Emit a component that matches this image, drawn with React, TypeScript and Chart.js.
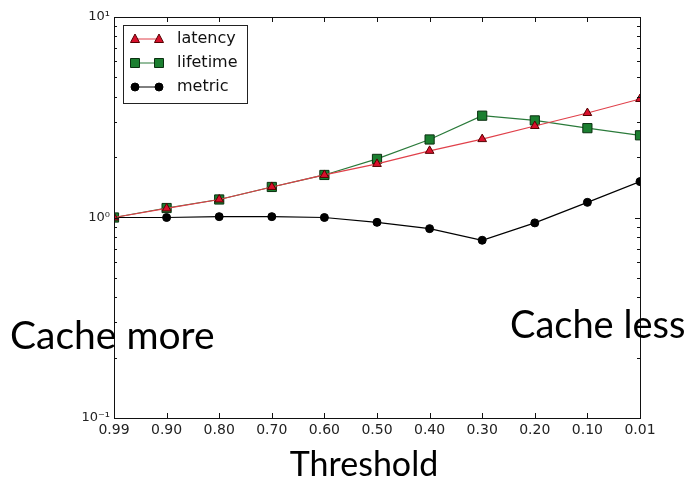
import React, { useEffect, useRef } from "react";
import { Chart, registerables } from "chart.js";

Chart.register(...registerables);

const categories = ["0.99", "0.90", "0.80", "0.70", "0.60", "0.50", "0.40", "0.30", "0.20", "0.10", "0.01"];
const latency = [1.0, 1.11, 1.23, 1.42, 1.63, 1.85, 2.15, 2.46, 2.86, 3.32, 3.9];
const lifetime = [1.0, 1.115, 1.23, 1.42, 1.63, 1.96, 2.45, 3.22, 3.05, 2.79, 2.57];
const metric = [1.0, 1.0, 1.01, 1.01, 1.0, 0.946, 0.88, 0.77, 0.94, 1.19, 1.51];
const yMajorTicks = [0.1, 1, 10];
const yTickLabels = ["10⁻¹", "10⁰", "10¹"];
const yMinorTicks = [0.2, 0.3, 0.4, 0.5, 0.6, 0.7, 0.8, 0.9, 2, 3, 4, 5, 6, 7, 8, 9];

const RED_LINE = "#e0404a";
const RED_FILL = "#d8102c";
const GREEN_LINE = "#2a7a3a";
const GREEN_FILL = "#1b7f30";

const framePlugin = {
  id: "frameTicks",
  afterDatasetsDraw(chart: any) {
    const { ctx, chartArea } = chart;
    const { left, right, top, bottom } = chartArea;
    const xs = chart.scales.x;
    const ys = chart.scales.y;
    ctx.save();
    ctx.strokeStyle = "#111";
    ctx.lineWidth = 1;
    ctx.beginPath();
    categories.forEach((_, i) => {
      const px = Math.round(xs.getPixelForValue(i)) + 0.5;
      ctx.moveTo(px, bottom);
      ctx.lineTo(px, bottom - 5);
      ctx.moveTo(px, top);
      ctx.lineTo(px, top + 5);
    });
    yMajorTicks.forEach((v) => {
      const py = Math.round(ys.getPixelForValue(v)) + 0.5;
      ctx.moveTo(left, py);
      ctx.lineTo(left + 5, py);
      ctx.moveTo(right, py);
      ctx.lineTo(right - 5, py);
    });
    yMinorTicks.forEach((v) => {
      const py = Math.round(ys.getPixelForValue(v)) + 0.5;
      ctx.moveTo(left, py);
      ctx.lineTo(left + 3, py);
      ctx.moveTo(right, py);
      ctx.lineTo(right - 3, py);
    });
    ctx.stroke();
    ctx.strokeRect(Math.round(left) + 0.5, Math.round(top) + 0.5, Math.round(right - left), Math.round(bottom - top));

    // legend
    const lx = left + 9;
    const ly = top + 8;
    const lw = 124;
    const lh = 78;
    ctx.fillStyle = "#fff";
    ctx.fillRect(lx, ly, lw, lh);
    ctx.strokeStyle = "#222";
    ctx.strokeRect(Math.round(lx) + 0.5, Math.round(ly) + 0.5, lw, lh);
    const items = [
      { label: "latency", line: RED_LINE, fill: RED_FILL, shape: "tri" },
      { label: "lifetime", line: GREEN_LINE, fill: GREEN_FILL, shape: "sq" },
      { label: "metric", line: "#000", fill: "#000", shape: "circ" },
    ];
    items.forEach((it, i) => {
      const cy = ly + 14 + i * 24;
      const x1 = lx + 12;
      const x2 = lx + 36;
      ctx.strokeStyle = it.line;
      ctx.lineWidth = 1;
      ctx.beginPath();
      ctx.moveTo(x1, cy);
      ctx.lineTo(x2, cy);
      ctx.stroke();
      [x1, x2].forEach((mx) => {
        ctx.fillStyle = it.fill;
        ctx.strokeStyle = it.shape === "circ" ? "#000" : it.shape === "sq" ? "#0a3010" : "#500";
        ctx.beginPath();
        if (it.shape === "tri") {
          ctx.moveTo(mx, cy - 5);
          ctx.lineTo(mx + 4.5, cy + 3.5);
          ctx.lineTo(mx - 4.5, cy + 3.5);
          ctx.closePath();
        } else if (it.shape === "sq") {
          ctx.rect(mx - 4.5, cy - 4.5, 9, 9);
        } else {
          ctx.arc(mx, cy, 4, 0, Math.PI * 2);
        }
        ctx.fill();
        ctx.stroke();
      });
      ctx.fillStyle = "#111";
      ctx.font = "16px 'DejaVu Sans'";
      ctx.textBaseline = "middle";
      ctx.textAlign = "left";
      ctx.fillText(it.label, lx + 54, cy);
    });

    // annotations
    ctx.fillStyle = "#000";
    ctx.font = "39px Lato";
    ctx.textBaseline = "middle";
    ctx.textAlign = "left";
    ctx.fillText("Cache more", 10, 336);
    ctx.font = "38px Lato";
    ctx.fillText("Cache less", 510, 326);
    ctx.font = "34px Lato";
    ctx.textAlign = "center";
    ctx.fillText("Threshold", 364, 465);
    ctx.restore();
  },
};

export default function App() {
  const canvasRef = useRef<HTMLCanvasElement | null>(null);

  useEffect(() => {
    const canvas = canvasRef.current;
    if (!canvas) return;
    const chart = new Chart(canvas, {
      type: "line",
      data: {
        labels: categories,
        datasets: [
          {
            label: "latency",
            data: latency,
            borderColor: RED_LINE,
            backgroundColor: RED_FILL,
            pointBorderColor: "#500",
            pointStyle: "triangle",
            pointRadius: 5,
            pointBorderWidth: 1,
            borderWidth: 1.2,
            tension: 0,
            clip: 0,
          },
          {
            label: "lifetime",
            data: lifetime,
            borderColor: GREEN_LINE,
            backgroundColor: GREEN_FILL,
            pointBorderColor: "#0a3010",
            pointStyle: "rect",
            pointRadius: 6.5,
            pointBorderWidth: 1,
            borderWidth: 1.2,
            tension: 0,
            clip: 0,
          },
          {
            label: "metric",
            data: metric,
            borderColor: "#000",
            backgroundColor: "#000",
            pointBorderColor: "#000",
            pointStyle: "circle",
            pointRadius: 4,
            pointBorderWidth: 1,
            borderWidth: 1.2,
            tension: 0,
            clip: 0,
          },
        ],
      },
      options: {
        responsive: false,
        animation: false,
        events: [],
        layout: { padding: { left: 0, top: 17, right: 50, bottom: 0 } },
        plugins: { legend: { display: false }, tooltip: { enabled: false }, title: { display: false } },
        scales: {
          x: {
            type: "category",
            offset: false,
            grid: { display: false, drawTicks: false },
            border: { display: false },
            ticks: {
              color: "#222",
              font: { family: "'DejaVu Sans'", size: 14 },
              padding: 4,
              maxRotation: 0,
              autoSkip: false,
            },
            afterFit: (scale: any) => {
              scale.height = 67;
            },
          },
          y: {
            type: "logarithmic",
            min: 0.1,
            max: 10,
            grid: { display: false, drawTicks: false },
            border: { display: false },
            afterBuildTicks: (scale: any) => {
              scale.ticks = yMajorTicks.map((v) => ({ value: v }));
            },
            ticks: {
              color: "#222",
              font: { family: "'DejaVu Sans'", size: 13 },
              padding: 4,
              callback: (value: any) => {
                const idx = yMajorTicks.findIndex((v) => Math.abs(v - Number(value)) < 1e-9);
                return idx >= 0 ? yTickLabels[idx] : "";
              },
            },
            afterFit: (scale: any) => {
              scale.width = 114;
            },
          },
        },
      },
      plugins: [framePlugin],
    } as any);
    return () => chart.destroy();
  }, []);

  return (
    <div style={{ position: "absolute", left: 0, top: 0, width: 690, height: 485, background: "#fff" }}>
      <canvas ref={canvasRef} width={690} height={485} />
    </div>
  );
}
